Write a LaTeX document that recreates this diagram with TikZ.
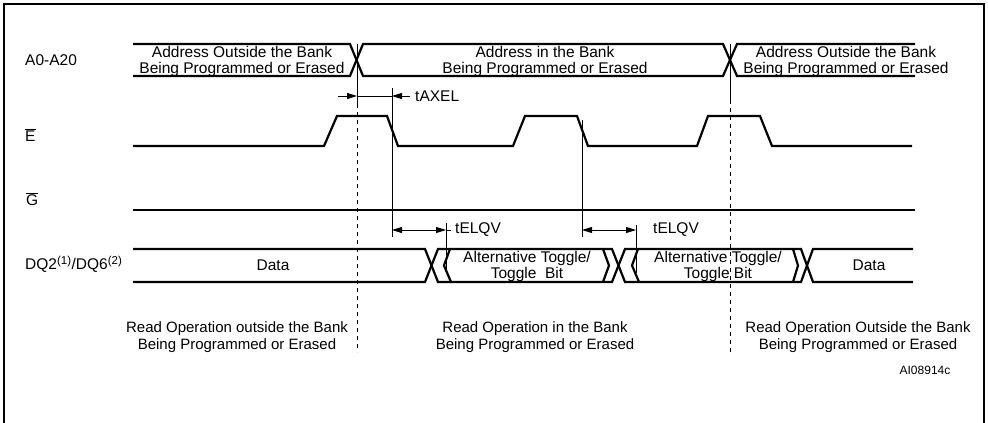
\documentclass[tikz,border=0pt]{standalone}
\usepackage{fontspec}
\setmainfont{Liberation Sans}
\usetikzlibrary{arrows.meta}
\begin{document}
\begin{tikzpicture}[x=1pt,y=-1pt,
  sig/.style={line width=2.2pt, line join=miter, line cap=butt},
  thinline/.style={line width=0.9pt},
  dashline/.style={line width=0.9pt, dash pattern=on 4pt off 4pt},
  frameline/.style={line width=2.5pt},
  meas/.style={line width=0.9pt, -{Triangle[length=10pt,width=6pt]}},
  measboth/.style={line width=0.9pt, {Triangle[length=10pt,width=6pt]}-{Triangle[length=10pt,width=6pt]}},
  lbl/.style={font=\fontsize{15.5}{16}\selectfont, inner sep=0pt, align=center},
  blbl/.style={font=\fontsize{15}{17}\selectfont, inner sep=0pt, align=center},
  slbl/.style={font=\fontsize{12}{14}\selectfont, inner sep=0pt}]
\useasboundingbox (0,0) rectangle (988,423);
\fill[white] (0,0) rectangle (988,423);
% frame
\draw[frameline] (4,423) -- (4,4) -- (984,4) -- (984,423);

% signal names
\node[lbl, anchor=west] (nA) at (25,60) {A0-A20};
\node[lbl, anchor=west] (nE) at (25,135) {$\overline{\mbox{E}}$};
\node[lbl, anchor=west] (nG) at (26,199) {$\overline{\mbox{G}}$};
\node[lbl, anchor=west] (nD) at (25,264) {DQ2\textsuperscript{\fontsize{11.5}{12}\selectfont(1)}/DQ6\textsuperscript{\fontsize{11.5}{12}\selectfont(2)}};

% address bus
\draw[sig] (133,44) -- (350,44) -- (363,76) -- (723,76) -- (737,44) -- (915,44);
\draw[sig] (133,76) -- (350,76) -- (363,44) -- (723,44) -- (737,76) -- (915,76);
\node[lbl] (a1) at (242,61) {Address Outside the Bank\\Being Programmed or Erased};
\node[lbl] (a2) at (545,61) {Address in the Bank\\Being Programmed or Erased};
\node[lbl] (a3) at (846,61) {Address Outside the Bank\\Being Programmed or Erased};

% E
\draw[sig] (133,146) -- (324,146) -- (337,116) -- (387,116) -- (398,146)
  -- (513,146) -- (525,116) -- (577,116) -- (588,146)
  -- (697,146) -- (708,116) -- (760,116) -- (772,146) -- (912,146);

% G
\draw[sig] (133,210) -- (915,210);

% DQ bus
\draw[sig] (133,249) -- (425,249) -- (438,282) -- (612,282) -- (625,249) -- (801,249) -- (813,282) -- (913,282);
\draw[sig] (133,282) -- (425,282) -- (438,249) -- (612,249) -- (625,282) -- (801,282) -- (813,249) -- (913,249);
\draw[sig] (450,249) -- (444,265.5) -- (451,282);
\draw[sig] (603,249) -- (609,265.5) -- (603,282);
\draw[sig] (638,249) -- (632,265.5) -- (639,282);
\draw[sig] (793,249) -- (798,265.5) -- (793,282);
\node[lbl] (d1) at (273,265.5) {Data};
\node[lbl] (t1) at (527,266.5) {Alternative Toggle/\\Toggle\ \ Bit};
\node[lbl] (t2) at (718,266.5) {Alternative Toggle/\\Toggle Bit};
\node[lbl] (d2) at (869,265.5) {Data};

% reference lines
\coordinate (c1top) at (357,44);
\coordinate (c1mid) at (357,104);
\coordinate (c1bot) at (357,352);
\coordinate (c2top) at (730,44);
\coordinate (c2mid) at (730,100);
\coordinate (c2bot) at (730,352);
\draw[thinline] (c1top) -- (c1mid);
\draw[dashline] (c1mid) -- (c1bot);
\draw[thinline] (c2top) -- (c2mid);
\draw[dashline] (c2mid) -- (c2bot);

\coordinate (v1top) at (392,88);
\coordinate (v1bot) at (392,237);
\coordinate (v2top) at (582,120);
\coordinate (v2bot) at (582,237);
\draw[thinline] (v1top) -- (v1bot);
\draw[thinline] (v2top) -- (v2bot);

% tAXEL
\coordinate (ax0) at (338,96);
\coordinate (ax1) at (357,96);
\coordinate (ax2) at (392,96);
\coordinate (ax3) at (410,96);
\draw[meas] (ax0) -- (ax1);
\draw[thinline] (ax1) -- (ax2);
\draw[meas] (ax3) -- (ax2);
\node[lbl, anchor=west] (tax) at (415,96) {tAXEL};

% tELQV 1
\coordinate (e1a) at (392,230);
\coordinate (e1b) at (446,230);
\coordinate (e1c) at (451,230);
\coordinate (k1t) at (446,223);
\coordinate (k1b) at (446,270);
\draw[measboth] (e1a) -- (e1b);
\draw[thinline] (e1b) -- (e1c);
\draw[thinline] (k1t) -- (k1b);
\node[lbl, anchor=west] (te1) at (455,230) {tELQV};

% tELQV 2
\coordinate (e2a) at (582,230);
\coordinate (e2b) at (636,230);
\coordinate (k2t) at (636,225);
\coordinate (k2b) at (636,273);
\draw[measboth] (e2a) -- (e2b);
\draw[thinline] (k2t) -- (k2b);
\node[lbl, anchor=west] (te2) at (653,230) {tELQV};

% bottom notes
\node[blbl] (r1) at (237,337) {Read Operation outside the Bank\\Being Programmed or Erased};
\node[blbl] (r2) at (535,337) {Read Operation in the Bank\\Being Programmed or Erased};
\node[blbl] (r3) at (858,337) {Read Operation Outside the Bank\\Being Programmed or Erased};
\node[slbl] (ai) at (925,370) {AI08914c};
\end{tikzpicture}
\end{document}
